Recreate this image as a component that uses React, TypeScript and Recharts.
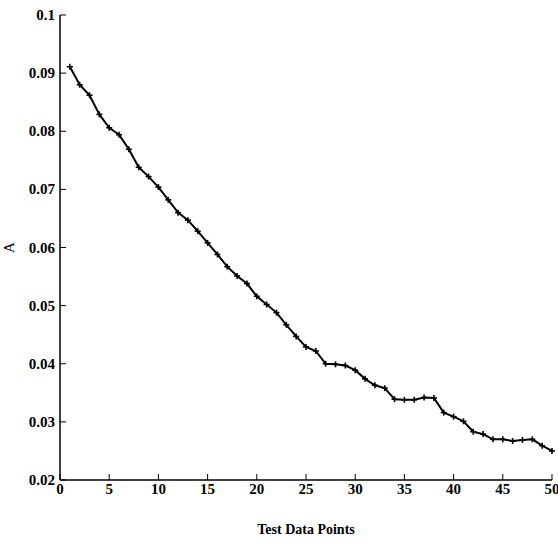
import { CartesianGrid, Line, LineChart, XAxis, YAxis } from "recharts";

const testPoints = [
  1, 2, 3, 4, 5, 6, 7, 8, 9, 10, 11, 12, 13, 14, 15, 16, 17, 18, 19, 20, 21, 22, 23, 24, 25,
  26, 27, 28, 29, 30, 31, 32, 33, 34, 35, 36, 37, 38, 39, 40, 41, 42, 43, 44, 45, 46, 47, 48,
  49, 50,
];

const aValues = [
  0.0911, 0.088, 0.0862, 0.0829, 0.0806, 0.0794, 0.0769, 0.0738, 0.0722, 0.0704, 0.0682,
  0.066, 0.0647, 0.0628, 0.0608, 0.0588, 0.0567, 0.0551, 0.0538, 0.0516, 0.0502, 0.0488,
  0.0467, 0.0447, 0.0429, 0.0422, 0.04, 0.0399, 0.0397, 0.0389, 0.0374, 0.0363, 0.0358,
  0.0339, 0.0338, 0.0338, 0.0342, 0.0341, 0.0316, 0.0309, 0.0301, 0.0283, 0.0279, 0.027,
  0.027, 0.0267, 0.0269, 0.027, 0.0259, 0.025,
];

const xTicks = [0, 5, 10, 15, 20, 25, 30, 35, 40, 45, 50];
const yTicks = [0.02, 0.03, 0.04, 0.05, 0.06, 0.07, 0.08, 0.09, 0.1];

const data = testPoints.map((p, i) => ({ point: p, a: aValues[i] }));

const FONT = "'Liberation Serif', 'Times New Roman', serif";
const TICK_LEN = 6;

function BottomTick({ x, y, payload }: any) {
  return (
    <g>
      <line x1={x} x2={x} y1={y - 2} y2={y - 2 - TICK_LEN} stroke="#000" />
      <text x={x} y={y + 12} textAnchor="middle" fontFamily={FONT} fontWeight="bold" fontSize={15} fill="#000">
        {payload.value}
      </text>
    </g>
  );
}

function LeftTick({ x, y, payload }: any) {
  return (
    <g>
      <line x1={x + 5} x2={x + 5 + TICK_LEN} y1={y} y2={y} stroke="#000" />
      <text x={x} y={y + 5} textAnchor="end" fontFamily={FONT} fontWeight="bold" fontSize={15} fill="#000">
        {String(payload.value)}
      </text>
    </g>
  );
}

function TopTick({ x, y }: any) {
  return <line x1={x} x2={x} y1={y} y2={y + TICK_LEN} stroke="#000" />;
}

function RightTick({ x, y }: any) {
  return <line x1={x} x2={x - TICK_LEN} y1={y} y2={y} stroke="#000" />;
}

function PlusDot({ cx, cy }: any) {
  if (cx == null || cy == null) return null;
  const r = 3;
  return (
    <g stroke="#000" strokeWidth={1.6}>
      <line x1={cx - r} x2={cx + r} y1={cy} y2={cy} />
      <line x1={cx} x2={cx} y1={cy - r} y2={cy + r} />
    </g>
  );
}

function XTitle({ viewBox }: any) {
  const cx = viewBox.x + viewBox.width / 2;
  return (
    <text x={cx} y={viewBox.y + 54} textAnchor="middle" fontFamily={FONT} fontWeight="bold" fontSize={14} fill="#000">
      Test Data Points
    </text>
  );
}

function YTitle({ viewBox }: any) {
  const ax = 9;
  const ay = viewBox.y + viewBox.height / 2;
  return (
    <text
      x={ax}
      y={ay}
      dy={5}
      transform={`rotate(-90 ${ax} ${ay})`}
      textAnchor="middle"
      fontFamily={FONT}
      fontSize={15}
      fill="#000"
    >
      A
    </text>
  );
}

export default function App() {
  return (
    <div style={{ position: "absolute", left: 0, top: 0, background: "#fff" }}>
      <LineChart width={558} height={544} data={data} margin={{ top: 15, right: 6, bottom: 0, left: 0 }}>
        <CartesianGrid stroke="none" />
        <XAxis
          xAxisId="b"
          dataKey="point"
          type="number"
          domain={[0, 50]}
          ticks={xTicks}
          interval={0}
          height={64}
          tickSize={0}
          tickMargin={2}
          tickLine={false}
          axisLine={{ stroke: "#000", strokeWidth: 1.5 }}
          tick={<BottomTick />}
          label={<XTitle />}
        />
        <XAxis
          xAxisId="t"
          orientation="top"
          dataKey="point"
          type="number"
          domain={[0, 50]}
          ticks={xTicks}
          interval={0}
          height={0}
          tickSize={0}
          tickMargin={0}
          tickLine={false}
          axisLine={{ stroke: "#000", strokeWidth: 1.5 }}
          tick={<TopTick />}
        />
        <YAxis
          yAxisId="l"
          type="number"
          domain={[0.02, 0.1]}
          ticks={yTicks}
          interval={0}
          width={60}
          tickSize={0}
          tickMargin={5}
          tickLine={false}
          axisLine={{ stroke: "#000", strokeWidth: 1.5 }}
          tick={<LeftTick />}
          label={<YTitle />}
        />
        <YAxis
          yAxisId="r"
          orientation="right"
          type="number"
          domain={[0.02, 0.1]}
          ticks={yTicks}
          interval={0}
          width={0}
          tickSize={0}
          tickMargin={0}
          tickLine={false}
          axisLine={{ stroke: "#000", strokeWidth: 1.5 }}
          tick={<RightTick />}
        />
        <Line
          xAxisId="b"
          yAxisId="l"
          type="linear"
          dataKey="a"
          stroke="#000"
          strokeWidth={2}
          dot={<PlusDot />}
          activeDot={false}
          isAnimationActive={false}
        />
      </LineChart>
    </div>
  );
}
